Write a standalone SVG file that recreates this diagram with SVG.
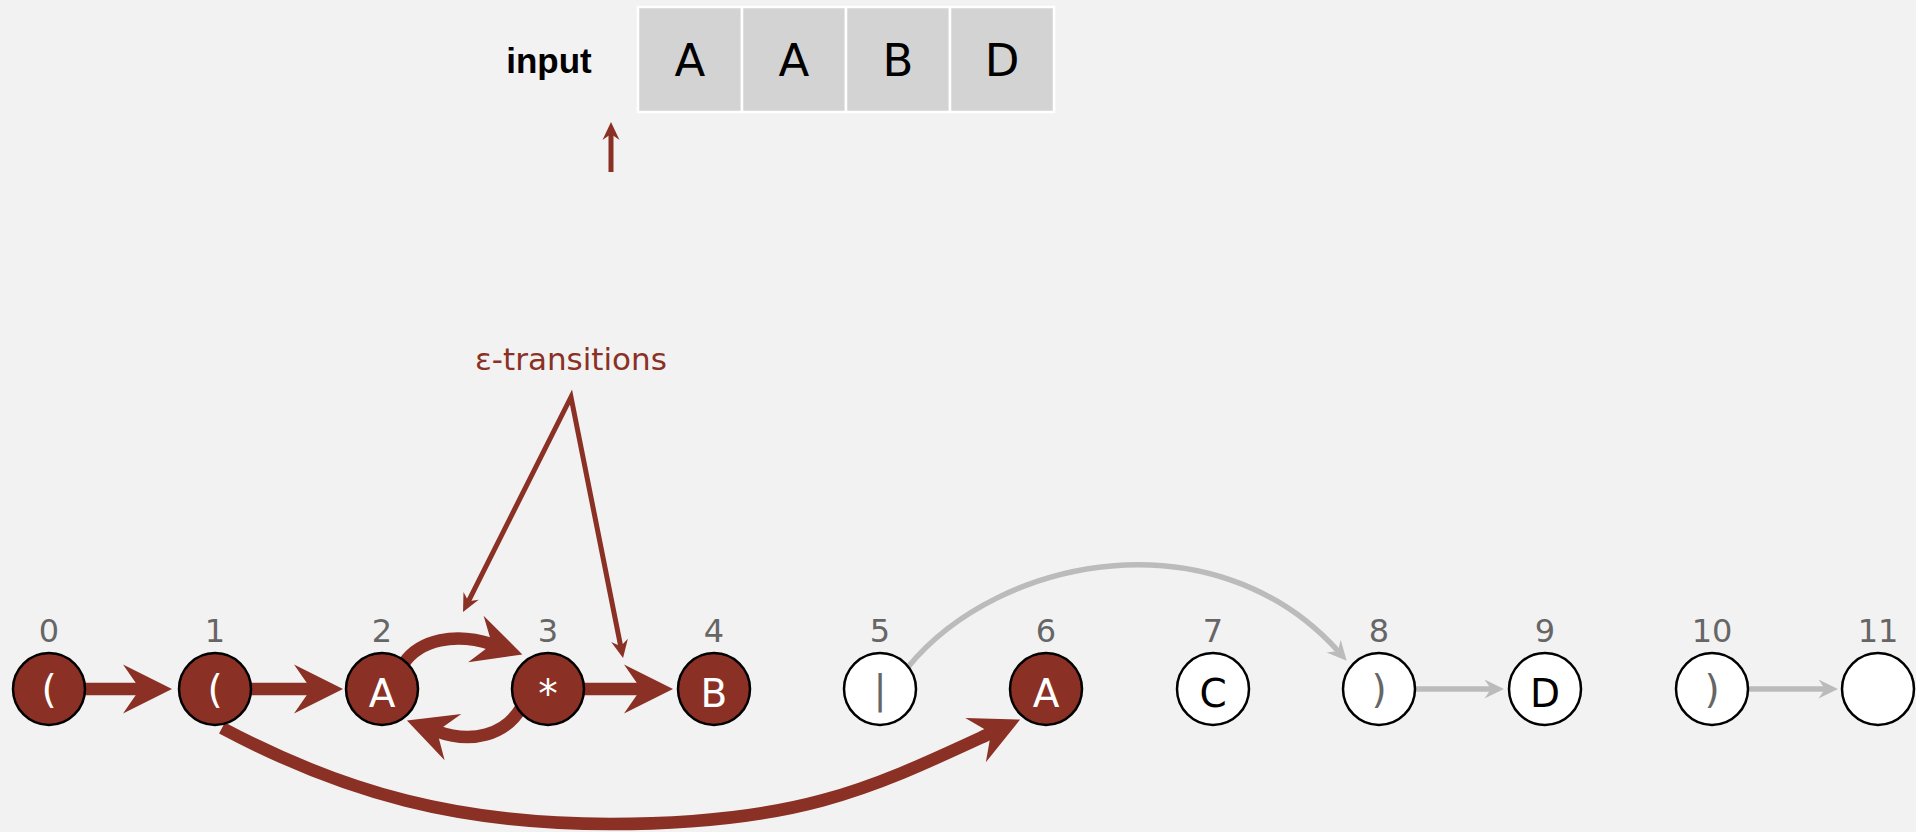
<svg xmlns="http://www.w3.org/2000/svg" width="1916" height="832" viewBox="0 0 1916 832">
  <style>
    .cell { fill: #d3d3d3; stroke: #ffffff; stroke-width: 2.5; }
    .cellText { font-family: "DejaVu Sans", "Liberation Sans", sans-serif; font-size: 45px; fill: #000; text-anchor: middle; }
    .idx { font-family: "DejaVu Sans", "Liberation Sans", sans-serif; font-size: 32px; fill: #666666; text-anchor: middle; }
    .on circle { fill: #8b3024; stroke: #000; stroke-width: 2.5; }
    .off circle { fill: #ffffff; stroke: #000; stroke-width: 2.5; }
    .sym { font-family: "DejaVu Sans", "Liberation Sans", sans-serif; font-size: 39px; text-anchor: middle; }
    .on .sym { fill: #ffffff; }
    .off .sym { fill: #000000; }
    .off .sym.dim { fill: #666666; }
    .eps { fill: none; stroke: #8b3024; stroke-width: 12.5; }
    .nfa { fill: none; stroke: #bbbbbb; stroke-width: 5.5; }
    .note { fill: none; stroke: #8b3024; stroke-width: 5; stroke-linejoin: miter; stroke-miterlimit: 20; }
  </style>
  <defs>
    <marker id="headBig" markerUnits="userSpaceOnUse" viewBox="-20 -26 56 52" markerWidth="56" markerHeight="52" refX="0" refY="0" orient="auto" overflow="visible">
      <path d="M32,0 L-17,-24.5 L0,0 L-17,24.5 Z" fill="#8b3024"/>
    </marker>
    <marker id="headGray" markerUnits="userSpaceOnUse" viewBox="-8 -11 24 22" markerWidth="24" markerHeight="22" refX="0" refY="0" orient="auto" overflow="visible">
      <path d="M13,0 L-6.5,-9.5 L0,0 L-6.5,9.5 Z" fill="#bbbbbb"/>
    </marker>
    <marker id="headNote" markerUnits="userSpaceOnUse" viewBox="-8 -10 24 20" markerWidth="24" markerHeight="20" refX="0" refY="0" orient="auto-start-reverse" overflow="visible">
      <path d="M12,0 L-6,-8.5 L0,0 L-6,8.5 Z" fill="#8b3024"/>
    </marker>
  </defs>

  <rect x="0" y="0" width="1916" height="832" fill="#f2f2f2"/>

  <!-- input tape -->
  <g id="input">
    <text x="549" y="73" font-family="'Liberation Sans', Arial, sans-serif" font-size="35" font-weight="bold" text-anchor="middle" fill="#000">input</text>
    <rect class="cell" x="638" y="7" width="104" height="105"/>
    <rect class="cell" x="742" y="7" width="104" height="105"/>
    <rect class="cell" x="846" y="7" width="104" height="105"/>
    <rect class="cell" x="950" y="7" width="104" height="105"/>
    <text class="cellText" x="690" y="76">A</text>
    <text class="cellText" x="794" y="76">A</text>
    <text class="cellText" x="898" y="76">B</text>
    <text class="cellText" x="1002" y="76">D</text>
    <path class="note" d="M611,172 L611,134" marker-end="url(#headNote)"/>
  </g>

  <!-- callout for the epsilon-transitions -->
  <g id="epsLabel">
    <text x="571" y="370" font-family="'DejaVu Sans', 'Liberation Sans', sans-serif" font-size="31" fill="#8b3024" text-anchor="middle">ε-transitions</text>
    <path class="note" d="M468.4,601.3 L571,397 L620.7,646.2" marker-start="url(#headNote)" marker-end="url(#headNote)"/>
  </g>

  <!-- transitions -->
  <g id="connectors">
    <path class="eps" d="M85,689 L140,689" marker-end="url(#headBig)"/>
    <path class="eps" d="M251,689 L311,689" marker-end="url(#headBig)"/>
    <path class="eps" d="M404,663 C420,640 455,632 492,644.3" marker-end="url(#headBig)"/>
    <path class="eps" d="M521,708 C505,735 472,744 437,731.3" marker-end="url(#headBig)"/>
    <path class="eps" d="M584,689 L641,689" marker-end="url(#headBig)"/>
    <path class="eps" d="M222,728 C345.6,793.7 460,824 610,824 C800,824 873,787.5 991,733" marker-end="url(#headBig)"/>
    <path class="nfa" d="M908,667 C1000,555 1215,515 1338,651" marker-end="url(#headGray)"/>
    <path class="nfa" d="M1415,689 L1491,689" marker-end="url(#headGray)"/>
    <path class="nfa" d="M1748,689 L1825,689" marker-end="url(#headGray)"/>
  </g>

  <!-- NFA states -->
  <g id="s0" class="on">
    <text class="idx" x="49" y="642">0</text>
    <circle cx="49" cy="689" r="36"/>
    <text class="sym" x="49" y="703">(</text>
  </g>
  <g id="s1" class="on">
    <text class="idx" x="215" y="642">1</text>
    <circle cx="215" cy="689" r="36"/>
    <text class="sym" x="215" y="703">(</text>
  </g>
  <g id="s2" class="on">
    <text class="idx" x="382" y="642">2</text>
    <circle cx="382" cy="689" r="36"/>
    <text class="sym" x="382" y="707">A</text>
  </g>
  <g id="s3" class="on">
    <text class="idx" x="548" y="642">3</text>
    <circle cx="548" cy="689" r="36"/>
    <text class="sym" x="548" y="707">*</text>
  </g>
  <g id="s4" class="on">
    <text class="idx" x="714" y="642">4</text>
    <circle cx="714" cy="689" r="36"/>
    <text class="sym" x="714" y="707">B</text>
  </g>
  <g id="s5" class="off">
    <text class="idx" x="880" y="642">5</text>
    <circle cx="880" cy="689" r="36"/>
    <text class="sym dim" x="880" y="703">|</text>
  </g>
  <g id="s6" class="on">
    <text class="idx" x="1046" y="642">6</text>
    <circle cx="1046" cy="689" r="36"/>
    <text class="sym" x="1046" y="707">A</text>
  </g>
  <g id="s7" class="off">
    <text class="idx" x="1213" y="642">7</text>
    <circle cx="1213" cy="689" r="36"/>
    <text class="sym" x="1213" y="707">C</text>
  </g>
  <g id="s8" class="off">
    <text class="idx" x="1379" y="642">8</text>
    <circle cx="1379" cy="689" r="36"/>
    <text class="sym dim" x="1379" y="703">)</text>
  </g>
  <g id="s9" class="off">
    <text class="idx" x="1545" y="642">9</text>
    <circle cx="1545" cy="689" r="36"/>
    <text class="sym" x="1545" y="707">D</text>
  </g>
  <g id="s10" class="off">
    <text class="idx" x="1712" y="642">10</text>
    <circle cx="1712" cy="689" r="36"/>
    <text class="sym dim" x="1712" y="703">)</text>
  </g>
  <g id="s11" class="off">
    <text class="idx" x="1878" y="642">11</text>
    <circle cx="1878" cy="689" r="36"/>
  </g>
</svg>
